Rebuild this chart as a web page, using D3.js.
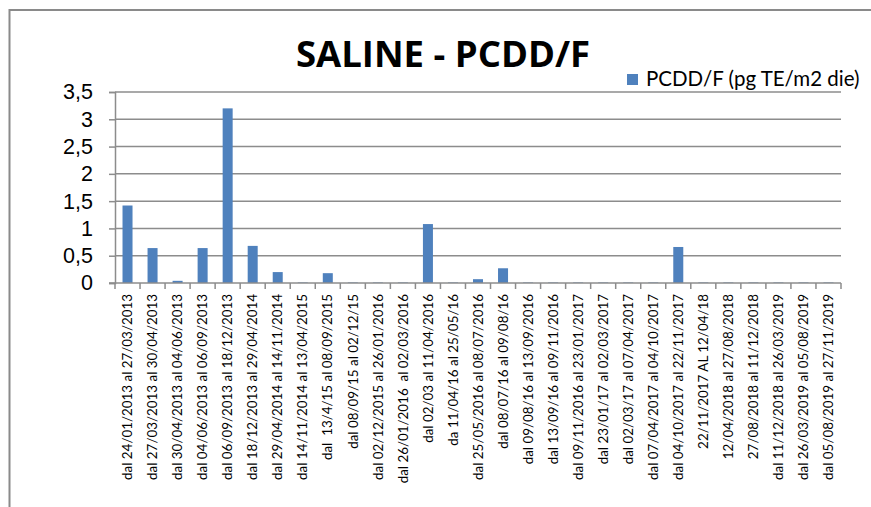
<!DOCTYPE html>
<html>
<head>
<meta charset="utf-8">
<script src="https://cdn.jsdelivr.net/npm/d3@7"></script>
<style>
  body { margin: 0; background: #fff; }
  svg { display: block; font-family: Lato, "Open Sans", sans-serif; }
</style>
</head>
<body>
<div id="chart"></div>
<script>
// periodi di campionamento
const periods = [
  "dal 24/01/2013 al 27/03/2013",
  "dal 27/03/2013 al 30/04/2013",
  "dal 30/04/2013 al 04/06/2013",
  "dal 04/06/2013 al 06/09/2013",
  "dal 06/09/2013 al 18/12/2013",
  "dal 18/12/2013 al 29/04/2014",
  "dal 29/04/2014 al 14/11/2014",
  "dal 14/11/2014 al 13/04/2015",
  "dal  13/4/15 al 08/09/2015",
  "dal 08/09/15 al 02/12/15",
  "dal 02/12/2015 al 26/01/2016",
  "dal 26/01/2016  al 02/03/2016",
  "dal 02/03 al 11/04/2016",
  "da 11/04/16 al 25/05/16",
  "dal 25/05/2016 al 08/07/2016",
  "dal 08/07/16 al 09/08/16",
  "dal 09/08/16 al 13/09/2016",
  "dal 13/09/16 al 09/11/2016",
  "dal 09/11/2016 al 23/01/2017",
  "dal 23/01/17 al 02/03/2017",
  "dal 02/03/17 al 07/04/2017",
  "dal 07/04/2017 al 04/10/2017",
  "dal 04/10/2017 al 22/11/2017",
  "22/11/2017 AL 12/04/18",
  "12/04/2018 al 27/08/2018",
  "27/08/2018 al 11/12/2018",
  "dal 11/12/2018 al 26/03/2019",
  "dal 26/03/2019 al 05/08/2019",
  "dal 05/08/2019 al 27/11/2019"
];

// PCDD/F (pg TE/m2 die)
const pcdd = [1.42, 0.64, 0.04, 0.64, 3.2, 0.68, 0.2, 0.01, 0.18, 0.01,
  0.01, 0.01, 1.08, 0.01, 0.07, 0.27, 0.01, 0.01, 0.01, 0.01,
  0.01, 0.01, 0.66, 0.01, 0.01, 0.01, 0.01, 0.01, 0.01];

const yTicks = [0, 0.5, 1, 1.5, 2, 2.5, 3, 3.5];
const seriesName = "PCDD/F (pg TE/m2 die)";
const title = "SALINE - PCDD/F";

const data = periods.map((p, i) => ({period: p, value: pcdd[i]}));

const W = 871, H = 507;
const margin = {top: 92, right: 30, bottom: 224, left: 115},
    width = 841 - margin.left,
    height = 283 - margin.top;

const svg = d3.select("#chart")
  .append("svg")
  .attr("width", W)
  .attr("height", H);

// cornice del grafico (esce dal bordo a destra e in basso)
svg.append("rect")
  .attr("x", 9.5)
  .attr("y", 10)
  .attr("width", W + 20)
  .attr("height", H)
  .attr("fill", "none")
  .attr("stroke", "#8a8a8a")
  .attr("stroke-width", 2);

const g = svg.append("g")
  .attr("transform", `translate(${margin.left},${margin.top})`);

const x = d3.scaleBand()
  .domain(periods)
  .range([0, width])
  .paddingInner(0.6)
  .paddingOuter(0.3);

const y = d3.scaleLinear()
  .domain([0, 3.5])
  .range([height, 0]);

// griglia
g.append("g")
  .selectAll("line")
  .data(yTicks.filter(d => d > 0))
  .join("line")
    .attr("x1", 0)
    .attr("x2", width)
    .attr("y1", d => y(d))
    .attr("y2", d => y(d))
    .attr("stroke", "#8c8c8c")
    .attr("stroke-width", 1.5);

// asse Y
const yAxis = g.append("g")
  .call(d3.axisLeft(y).tickValues(yTicks).tickSize(6).tickPadding(16)
    .tickFormat(d => d3.format("")(d).replace(".", ",")));
yAxis.select(".domain").attr("stroke", "#8c8c8c").attr("stroke-width", 1.5);
yAxis.selectAll(".tick line").attr("stroke", "#8c8c8c").attr("stroke-width", 1.5);
yAxis.selectAll(".tick text")
  .attr("fill", "#000")
  .style("font-size", "21.5px");

// barre
g.append("g")
  .selectAll("rect")
  .data(data)
  .join("rect")
    .attr("x", d => x(d.period))
    .attr("y", d => y(d.value))
    .attr("width", x.bandwidth())
    .attr("height", d => height - y(d.value))
    .attr("fill", "#4f81bd");

// asse X: tacche tra le categorie
const boundaries = d3.range(periods.length + 1).map(i => i * (width / periods.length));
const xAxis = g.append("g").attr("transform", `translate(0,${height})`);
xAxis.append("line")
  .attr("x1", -6).attr("x2", width)
  .attr("stroke", "#8c8c8c").attr("stroke-width", 1.5);
xAxis.selectAll(".xt")
  .data(boundaries)
  .join("line")
    .attr("class", "xt")
    .attr("x1", d => d).attr("x2", d => d)
    .attr("y1", 0).attr("y2", 6)
    .attr("stroke", "#8c8c8c").attr("stroke-width", 1.5);

xAxis.selectAll("text")
  .data(periods)
  .join("text")
    .attr("transform", d => `translate(${x(d) + x.bandwidth() / 2},11) rotate(-90)`)
    .attr("text-anchor", "end")
    .attr("dy", "0.35em")
    .style("font-size", "13.4px")
    .style("white-space", "pre")
    .text(d => d);

// titolo
svg.append("text")
  .attr("x", 443)
  .attr("y", 67)
  .attr("text-anchor", "middle")
  .style("font-family", "'Open Sans', sans-serif")
  .style("font-size", "36.5px")
  .style("font-weight", 700)
  .text(title);

// legenda
svg.append("rect")
  .attr("x", 627)
  .attr("y", 74)
  .attr("width", 11)
  .attr("height", 11)
  .attr("fill", "#4f81bd");
svg.append("text")
  .attr("x", 646)
  .attr("y", 86)
  .style("font-size", "20.5px")
  .text(seriesName);
</script>
</body>
</html>
